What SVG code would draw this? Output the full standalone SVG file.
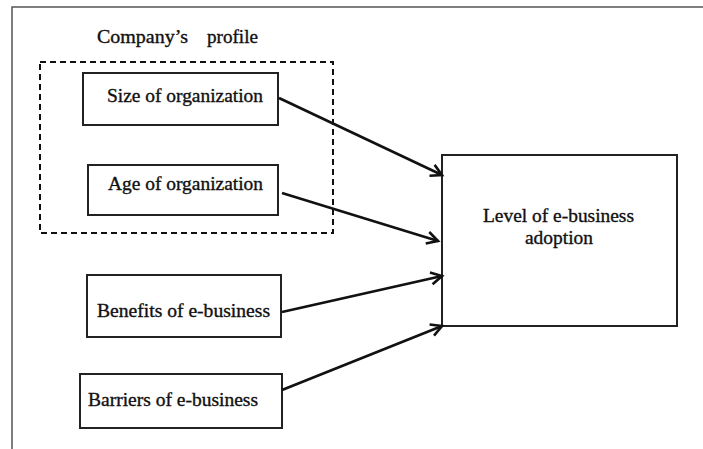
<svg xmlns="http://www.w3.org/2000/svg" width="703" height="449" viewBox="0 0 703 449">
<style>
.box{fill:#fff;stroke:#222;stroke-width:2}
.t{font-family:"Liberation Serif","Times New Roman",serif;font-size:18px;fill:#111;stroke:#111;stroke-width:0.35}
.c{stroke:#111;stroke-width:2.6;fill:none}
</style>
<defs>
<marker id="ah" markerUnits="userSpaceOnUse" markerWidth="20" markerHeight="20" refX="12" refY="7" orient="auto" viewBox="0 0 20 20">
<path d="M1,1 L12,7 L1,13" fill="none" stroke="#111" stroke-width="2.6" stroke-linejoin="miter"/>
</marker>
</defs>
<rect width="703" height="449" fill="#fff"/>
<path d="M12,449 V7 H703" fill="none" stroke="#555" stroke-width="1.5"/>
<g id="profile">
<rect x="40" y="62" width="293" height="171" fill="none" stroke="#111" stroke-width="2" stroke-dasharray="6,4"/>
<text class="t"><tspan x="97" y="43" textLength="91" lengthAdjust="spacingAndGlyphs">Company’s</tspan><tspan x="207" y="43" textLength="51" lengthAdjust="spacingAndGlyphs">profile</tspan></text>
</g>
<g id="size">
<rect class="box" x="83" y="73" width="195" height="52"/>
<text class="t" x="107" y="102" textLength="156" lengthAdjust="spacingAndGlyphs">Size of organization</text>
</g>
<g id="age">
<rect class="box" x="88" y="165" width="190" height="50"/>
<text class="t" x="108" y="190" textLength="155" lengthAdjust="spacingAndGlyphs">Age of organization</text>
</g>
<g id="benefits">
<rect class="box" x="87" y="275" width="194" height="62"/>
<text class="t" x="97" y="317" textLength="173" lengthAdjust="spacingAndGlyphs">Benefits of e-business</text>
</g>
<g id="barriers">
<rect class="box" x="80" y="374" width="202" height="54"/>
<text class="t" x="88" y="406" textLength="170" lengthAdjust="spacingAndGlyphs">Barriers of e-business</text>
</g>
<g id="level">
<rect class="box" x="442" y="155" width="235" height="171"/>
<text class="t" x="483" y="222" textLength="151" lengthAdjust="spacingAndGlyphs">Level of e-business</text>
<text class="t" x="525" y="244" textLength="68" lengthAdjust="spacingAndGlyphs">adoption</text>
</g>
<g id="connectors">
<line class="c" x1="279" y1="98" x2="442" y2="175" marker-end="url(#ah)"/>
<line class="c" x1="282" y1="193" x2="438" y2="241" marker-end="url(#ah)"/>
<line class="c" x1="282" y1="312" x2="442" y2="276" marker-end="url(#ah)"/>
<line class="c" x1="282" y1="390" x2="442" y2="326" marker-end="url(#ah)"/>
</g>
</svg>
